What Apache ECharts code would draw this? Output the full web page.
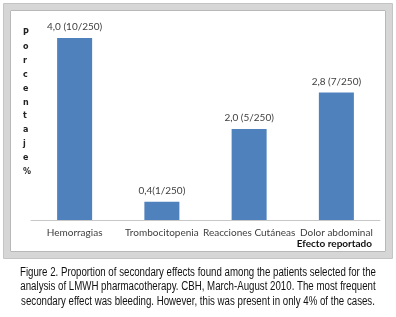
<!DOCTYPE html>
<html>
<head>
<meta charset="utf-8">
<script src="https://cdn.jsdelivr.net/npm/echarts@6/dist/echarts.min.js"></script>
<style>
  html, body { margin: 0; padding: 0; background: #fff; }
  #chart { width: 396px; height: 317px; }
</style>
</head>
<body>
<div id="chart"></div>
<script>
var categories = ['Hemorragias', 'Trombocitopenia', 'Reacciones Cutáneas', 'Dolor abdominal'];
var values = [4.0, 0.4, 2.0, 2.8];
var barLabels = ['4,0 (10/250)', '0,4(1/250)', '2,0 (5/250)', '2,8 (7/250)'];
var yTitle = 'Porcentaje%';
var xTitle = 'Efecto reportado';
var caption = [
  'Figure 2. Proportion of secondary effects found among the patients selected for the',
  'analysis of LMWH pharmacotherapy. CBH, March-August 2010. The most frequent',
  'secondary effect was bleeding. However, this was present in only 4% of the cases.'
];

var chart = echarts.init(document.getElementById('chart'));

// vertical title, one letter per line
var titleChars = yTitle.split('').map(function (c, i) {
  return {
    type: 'text', left: 23, top: 29 + i * 13.9,
    style: { text: c, font: 'bold 8px "DejaVu Sans"', fill: '#222', textAlign: 'center' }
  };
});

// caption font is condensed in the print; squeeze a normal font to the same width
var capFont = '12.5px "Liberation Sans"';
var ctx = document.createElement('canvas').getContext('2d');
ctx.font = capFont;
var capScale = 356 / ctx.measureText(caption[0]).width;

chart.setOption({
  animation: false,
  grid: { left: 31, right: 16, top: 38, bottom: 97, containLabel: false },
  xAxis: {
    type: 'category',
    data: categories,
    axisLine: { lineStyle: { color: '#c8c8c8' } },
    axisTick: { show: false },
    axisLabel: { color: '#404040', fontSize: 10, fontFamily: 'Lato', margin: 8, interval: 0 }
  },
  yAxis: {
    type: 'value', min: 0, max: 4,
    show: false
  },
  series: [{
    type: 'bar',
    data: values,
    barWidth: 35,
    itemStyle: { color: '#4f81bd' },
    label: {
      show: true, position: 'top', distance: 6,
      color: '#404040', fontSize: 10, fontFamily: 'Lato',
      formatter: function (p) { return barLabels[p.dataIndex]; }
    }
  }],
  graphic: [
    { type: 'rect', shape: { x: 7, y: 7, width: 382, height: 248 },
      style: { fill: 'none', stroke: '#d6d6d6', lineWidth: 6 } },
    { type: 'rect', shape: { x: 3.5, y: 3.5, width: 389, height: 255 },
      style: { fill: 'none', stroke: '#c4c4c4', lineWidth: 1 } },
    { type: 'rect', shape: { x: 10.5, y: 10.5, width: 375, height: 241 },
      style: { fill: 'none', stroke: '#b8b8b8', lineWidth: 1 } },
    { type: 'text', right: 24, top: 239,
      style: { text: xTitle, font: 'bold 10px Lato', fill: '#111', textAlign: 'right' } }
  ].concat(caption.map(function (t, i) {
    return { type: 'text', x: 198, y: 266 + i * 14.5, scaleX: capScale,
      style: { text: t, font: capFont, fill: '#111', textAlign: 'center', textVerticalAlign: 'top' } };
  })).concat(titleChars)
});
</script>
</body>
</html>
